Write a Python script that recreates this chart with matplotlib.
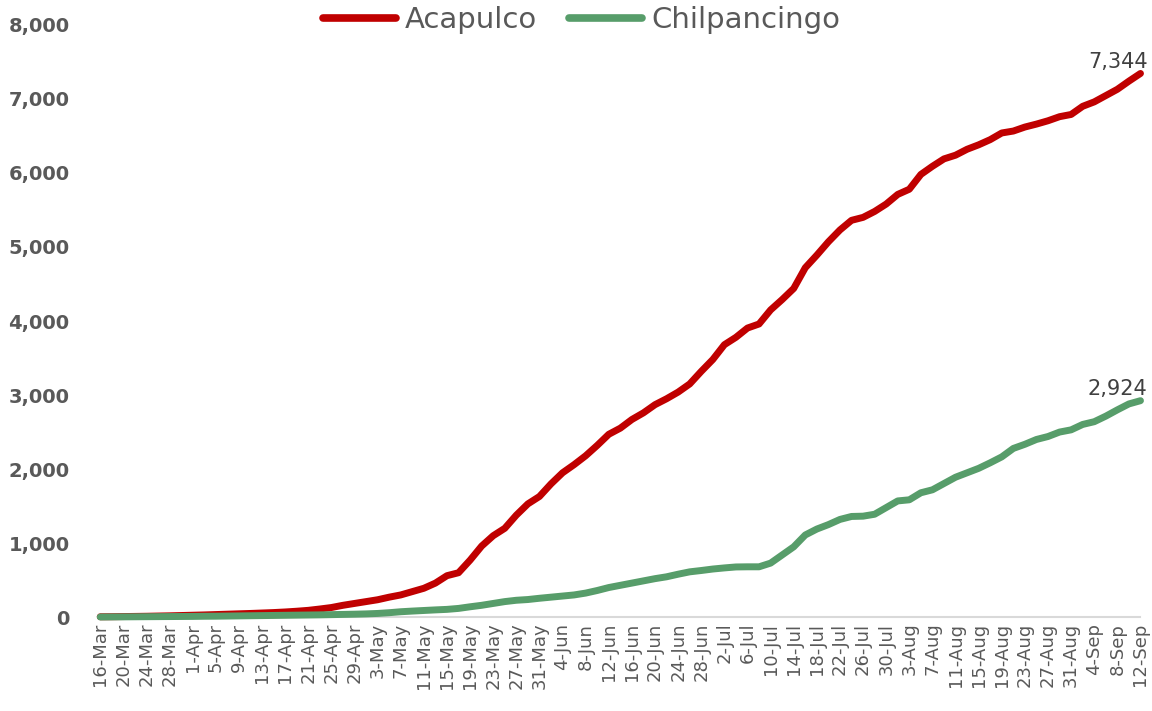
import matplotlib.pyplot as plt
import matplotlib.ticker as mticker
import pandas as pd

# casos acumulados, cada 2 dias desde el 16-Mar hasta el 12-Sep
fechas = pd.date_range("2020-03-16", "2020-09-12", freq="2D")

acapulco = [
    5, 6, 8, 10, 12, 15, 18, 22, 26, 30,
    35, 40, 45, 50, 56, 62, 70, 80, 92, 110,
    130, 160, 185, 210, 235, 270, 300, 345, 390, 460,
    560, 600, 770, 960, 1100, 1200, 1378, 1530, 1630, 1800,
    1950, 2060, 2180, 2320, 2470, 2553, 2670, 2760, 2870, 2950,
    3040, 3150, 3320, 3480, 3680, 3780, 3905, 3960, 4150, 4290,
    4440, 4720, 4890, 5070, 5230, 5360, 5400, 5480, 5580, 5710,
    5780, 5980, 6090, 6190, 6240, 6320, 6380, 6450, 6540, 6566,
    6620, 6660, 6705, 6760, 6790, 6900, 6960, 7045, 7130, 7240,
    7344,
]

chilpancingo = [
    2, 3, 4, 5, 6, 7, 8, 9, 10, 12,
    13, 15, 17, 19, 21, 23, 25, 27, 29, 31,
    34, 37, 40, 44, 50, 60, 73, 82, 90, 98,
    105, 118, 140, 160, 185, 210, 228, 238, 255, 270,
    285, 300, 325, 360, 400, 430, 460, 490, 520, 545,
    580, 612, 630, 650, 665, 678, 680, 680, 730, 840,
    950, 1110, 1190, 1250, 1320, 1360, 1364, 1390, 1480, 1570,
    1585, 1680, 1720, 1805, 1890, 1950, 2010, 2085, 2165, 2279,
    2335, 2400, 2440, 2500, 2530, 2603, 2640, 2715, 2800, 2880,
    2924,
]

ROJO = "#C00000"
VERDE = "#579D6A"
GRIS = "#595959"

plt.rcParams["font.family"] = ["DejaVu Sans"]

fig = plt.figure(figsize=(11.52, 7.11), dpi=100)
ax = fig.add_axes([0.087, 0.132, 0.903, 0.833])

ax.plot(fechas, acapulco, color=ROJO, lw=5, solid_capstyle="round",
        label="Acapulco", clip_on=False, zorder=3)
ax.plot(fechas, chilpancingo, color=VERDE, lw=5, solid_capstyle="round",
        label="Chilpancingo", clip_on=False, zorder=4)

ax.set_xlim(fechas[0], fechas[-1])
ax.set_ylim(0, 8000)

ticks = fechas[::2]
ax.set_xticks(ticks)
ax.set_xticklabels([f"{d.day}-{d.strftime('%b')}" for d in ticks],
                   rotation=90, fontsize=13, color=GRIS)
ax.yaxis.set_major_locator(mticker.MultipleLocator(1000))
ax.yaxis.set_major_formatter(mticker.StrMethodFormatter("{x:,.0f}"))
for t in ax.get_yticklabels():
    t.set_fontweight("bold")
ax.tick_params(axis="y", length=0, pad=22, labelsize=14, labelcolor=GRIS)
ax.tick_params(axis="x", length=0, pad=4)

for s in ["top", "right", "left"]:
    ax.spines[s].set_visible(False)
ax.spines["bottom"].set_color("#D9D9D9")
ax.spines["bottom"].set_linewidth(1.5)

# etiquetas del ultimo valor
ax.annotate(f"{acapulco[-1]:,}", (fechas[-1], acapulco[-1]), xytext=(5, 1),
            textcoords="offset points", ha="right", va="bottom",
            fontsize=15, color="#404040")
ax.annotate(f"{chilpancingo[-1]:,}", (fechas[-1], chilpancingo[-1]), xytext=(5, 1),
            textcoords="offset points", ha="right", va="bottom",
            fontsize=15, color="#404040")

leg = fig.legend(loc="center", bbox_to_anchor=(0.505, 0.972), ncol=2, frameon=False,
                 fontsize=21, handlelength=2.5, handletextpad=0.3, columnspacing=1.1)
for t in leg.get_texts():
    t.set_color(GRIS)
for h in leg.get_lines():
    h.set_linewidth(5.5)

fig.savefig("out.png", dpi=100)
